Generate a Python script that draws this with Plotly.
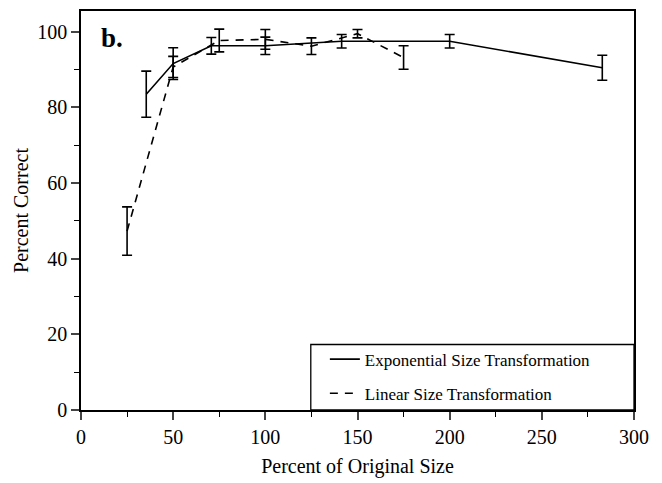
import plotly.graph_objects as go

# Exponential size transformation
exp_x = [35.4, 50, 70.7, 100, 141.4, 200, 282.8]
exp_y = [83.5, 91.6, 96.3, 96.3, 97.5, 97.5, 90.5]
exp_err = [6.1, 4.2, 2.2, 2.3, 1.8, 1.8, 3.3]

# Linear size transformation
lin_x = [25, 50, 75, 100, 125, 150, 175]
lin_y = [47.3, 90.7, 97.7, 98.0, 96.2, 99.5, 93.2]
lin_err = [6.4, 2.8, 3.0, 2.6, 2.2, 1.1, 3.1]

x_ticks = [0, 50, 100, 150, 200, 250, 300]
y_ticks = [0, 20, 40, 60, 80, 100]

FONT = "Liberation Serif"

fig = go.Figure()
fig.add_trace(go.Scatter(
    x=exp_x, y=exp_y, mode="lines", name="Exponential Size Transformation",
    line=dict(color="black", width=1.6),
    error_y=dict(type="data", array=exp_err, color="black", thickness=1.6, width=5),
    legendgroup="a",
))
fig.add_trace(go.Scatter(
    x=lin_x, y=lin_y, mode="lines", name="Linear Size Transformation",
    line=dict(color="black", width=1.6, dash="8px,7px"),
    error_y=dict(type="data", array=lin_err, color="black", thickness=1.6, width=5),
    legendgroup="b",
))

fig.update_layout(
    width=662, height=483,
    margin=dict(l=81, r=28, t=9, b=66),
    paper_bgcolor="white", plot_bgcolor="white",
    font=dict(family=FONT, color="black", size=19),
    showlegend=True,
    legend=dict(x=0.441, y=-0.004, xanchor="left", yanchor="bottom",
                bgcolor="rgba(0,0,0,0)", borderwidth=0,
                font=dict(family=FONT, size=17, color="black"),
                tracegroupgap=9),
    shapes=[dict(type="rect", xref="paper", yref="paper",
                 x0=(311 - 81) / 553.5, x1=1, y0=0, y1=(417 - 350) / 408,
                 line=dict(color="black", width=1.3), fillcolor="white", layer="below")],
    annotations=[dict(text="<b>b.</b>", x=0.033, y=0.975, xref="paper", yref="paper",
                      xanchor="left", yanchor="top", showarrow=False,
                      font=dict(family=FONT, size=27, color="black"))],
)
fig.update_xaxes(
    range=[0, 300], tickvals=x_ticks, ticks="outside", ticklen=8, tickwidth=1.5,
    showline=True, linecolor="black", linewidth=1.6, mirror=True,
    showgrid=False, zeroline=False,
    minor=dict(dtick=25, ticks="outside", ticklen=5, tickwidth=1.3, tickcolor="black"),
    title=dict(text="Percent of Original Size", font=dict(size=20), standoff=12),
    tickfont=dict(size=20),
)
fig.update_yaxes(
    range=[0, 105.5], tickvals=y_ticks, ticks="outside", ticklen=8, tickwidth=1.5,
    showline=True, linecolor="black", linewidth=1.6, mirror=True,
    showgrid=False, zeroline=False,
    minor=dict(dtick=10, ticks="outside", ticklen=5, tickwidth=1.3, tickcolor="black"),
    title=dict(text="Percent Correct", font=dict(size=20), standoff=3),
    tickfont=dict(size=20),
)

fig.write_html("out.html")
